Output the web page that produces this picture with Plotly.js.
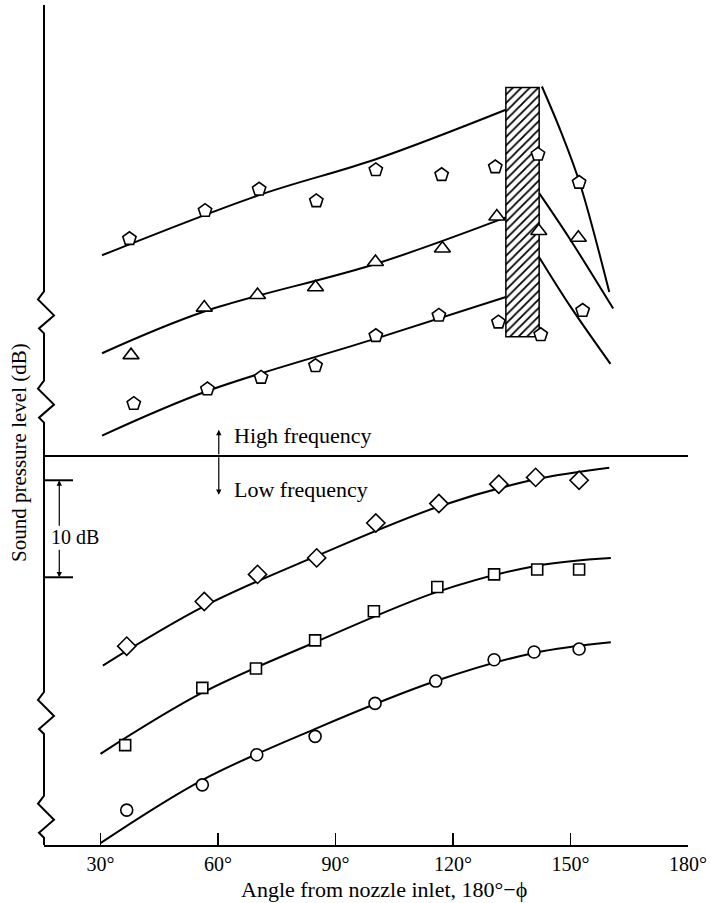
<!DOCTYPE html>
<html><head><meta charset="utf-8">
<script src="https://cdn.plot.ly/plotly-3.0.1.min.js"></script>
<style>html,body{margin:0;padding:0;background:#fff}</style>
</head><body><div id="chart" style="width:712px;height:903px"></div>
<script>
// ---------- tick labels ----------
const xTickVals = [30, 60, 90, 120, 150, 180];
const xTickText = ['30°', '60°', '90°', '120°', '150°', '180°'];

// ---------- HIGH FREQUENCY (relative dB) ----------
// top series (tombstone markers)
const hf1Angle = [37.4, 56.7, 70.5, 85.1, 100.3, 117.1, 130.8, 141.7, 152.2];
const hf1Level = [62.5, 65.4, 67.6, 66.4, 69.6, 69.1, 69.9, 71.2, 68.3];
// middle series (triangles)
const hf2Angle = [37.8, 56.5, 70.1, 84.9, 100.2, 117.3, 131.2, 141.9, 152.0];
const hf2Level = [50.5, 55.4, 56.7, 57.5, 60.1, 61.5, 64.8, 63.3, 62.6];
// lower series (tombstone markers)
const hf3Angle = [38.5, 57.3, 71.0, 84.9, 100.3, 116.4, 131.6, 142.4, 153.1];
const hf3Level = [45.5, 47.0, 48.2, 49.4, 52.5, 54.6, 53.9, 52.6, 55.1];

// fitted curves, left of shaded band
const hf1CurveX = [30.4, 70.5, 100.3, 133.5];
const hf1CurveY = [60.8, 67.0, 70.7, 75.8];
const hf2CurveX = [30.4, 56.5, 100.2, 133.5];
const hf2CurveY = [50.7, 55.0, 59.9, 64.7];
const hf3CurveX = [30.4, 57.3, 100.3, 133.5];
const hf3CurveY = [42.2, 46.8, 52.2, 56.5];
// fitted curves, right of shaded band
const hf1RightX = [142.7, 147.5, 152.4, 159.9];
const hf1RightY = [78.2, 73.6, 68.2, 57.0];
const hf2RightX = [142.0, 149.8, 160.9];
const hf2RightY = [67.2, 62.5, 55.3];
const hf3RightX = [142.0, 150.0, 160.2];
const hf3RightY = [60.6, 55.5, 49.6];

// shaded band (angle span, level span)
const bandAngle = [133.5, 142.0];
const bandLevel = [52.4, 78.1];

// ---------- LOW FREQUENCY (relative dB) ----------
const lf1Angle = [36.7, 56.5, 70.1, 85.2, 100.3, 116.4, 131.7, 141.1, 152.2];
const lf1Level = [20.5, 25.1, 27.9, 29.6, 33.2, 35.2, 37.2, 37.9, 37.6];
const lf2Angle = [36.3, 56.0, 69.7, 84.8, 99.8, 116.0, 130.5, 141.5, 152.2];
const lf2Level = [10.3, 16.2, 18.2, 21.1, 24.1, 26.6, 27.9, 28.4, 28.4];
const lf3Angle = [36.7, 56.0, 69.9, 84.8, 100.1, 115.6, 130.5, 140.7, 152.2];
const lf3Level = [3.6, 6.2, 9.3, 11.2, 14.6, 16.9, 19.1, 19.9, 20.2];

const lf1CurveX = [30.6, 56.4, 85.2, 116.4, 141.1, 159.9];
const lf1CurveY = [18.5, 24.6, 29.8, 34.9, 37.7, 38.9];
const lf2CurveX = [30.0, 56.0, 84.8, 116.0, 141.5, 160.3];
const lf2CurveY = [9.4, 15.7, 20.9, 26.1, 28.8, 29.6];
const lf3CurveX = [30.0, 56.0, 85.0, 115.6, 140.7, 160.3];
const lf3CurveY = [0.2, 6.7, 12.0, 16.9, 19.8, 20.9];

// reference levels
const dividerLevel = 40.1;
const scaleBarLevels = [37.6, 27.6];
const axisBreakLevels = [54.6, 45.4, 13.3, 2.6];

// ---------- layout constants ----------
const X_RANGE = [15.58, 180];
const Y_MAX = 86.6;
const PLOT_W = 644;   // px
const PX_PER_DB = 9.7;
const FONT = 'Liberation Serif, Times New Roman, serif';

function curve(x, y) {
  return {x: x, y: y, type: 'scatter', mode: 'lines', hoverinfo: 'skip',
    line: {color: 'black', width: 2, shape: 'spline', smoothing: 1}, showlegend: false};
}
function pts(x, y, symbol, size) {
  return {x: x, y: y, type: 'scatter', mode: 'markers', hoverinfo: 'skip', showlegend: false,
    marker: {symbol: symbol, size: size, color: 'white', line: {color: 'black', width: 1.6}}};
}

const traces = [
  {type: 'bar', x: [(bandAngle[0] + bandAngle[1]) / 2], width: [bandAngle[1] - bandAngle[0]],
   base: [bandLevel[0]], y: [bandLevel[1] - bandLevel[0]], hoverinfo: 'skip', showlegend: false,
   marker: {color: 'white', line: {color: 'black', width: 1.5},
     pattern: {shape: '/', fgcolor: 'black', bgcolor: 'white', size: 6, solidity: 0.3}}},
  curve(hf1CurveX, hf1CurveY), curve(hf2CurveX, hf2CurveY), curve(hf3CurveX, hf3CurveY),
  curve(hf1RightX, hf1RightY), curve(hf2RightX, hf2RightY), curve(hf3RightX, hf3RightY),
  curve(lf1CurveX, lf1CurveY), curve(lf2CurveX, lf2CurveY), curve(lf3CurveX, lf3CurveY),
  pts(hf1Angle, hf1Level, 'pentagon', 14),
  pts(hf2Angle, hf2Level, 'triangle-up', 14),
  pts(hf3Angle, hf3Level, 'pentagon', 14),
  pts(lf1Angle, lf1Level, 'diamond', 14),
  pts(lf2Angle, lf2Level, 'square', 11),
  pts(lf3Angle, lf3Level, 'circle', 12)
];

// left axis with break zigzags (decoration, paper coords)
function py(v) { return v / Y_MAX; }
function pxw(d) { return d / PLOT_W; }
let axisPath = 'M 0,' + py(Y_MAX);
axisBreakLevels.forEach(function (c) {
  const d = 1 / PX_PER_DB;
  axisPath += ' L 0,' + py(c + 24 * d) +
    ' L ' + pxw(-6) + ',' + py(c + 16 * d) +
    ' L ' + pxw(10) + ',' + py(c) +
    ' L ' + pxw(-5) + ',' + py(c - 13 * d) +
    ' L 0,' + py(c - 18 * d);
});
axisPath += ' L 0,0';

const shapes = [
  {type: 'path', xref: 'paper', yref: 'paper', path: axisPath, line: {color: 'black', width: 2}},
  {type: 'line', xref: 'paper', yref: 'paper', x0: 0, x1: 1, y0: py(dividerLevel), y1: py(dividerLevel),
   line: {color: 'black', width: 2}},
  {type: 'line', xref: 'paper', yref: 'paper', x0: 0, x1: pxw(29), y0: py(scaleBarLevels[0]), y1: py(scaleBarLevels[0]),
   line: {color: 'black', width: 2}},
  {type: 'line', xref: 'paper', yref: 'paper', x0: 0, x1: pxw(29), y0: py(scaleBarLevels[1]), y1: py(scaleBarLevels[1]),
   line: {color: 'black', width: 2}}
];

function arrow(x, y, ay) {
  return {x: x, y: y, xref: 'x', yref: 'y', ax: 0, ay: ay, text: '', showarrow: true,
    arrowhead: 2, arrowsize: 0.9, arrowwidth: 1.2, arrowcolor: 'black', standoff: 0};
}
function label(text, x, y, xanchor, size) {
  return {x: x, y: y, xref: 'x', yref: 'y', text: text, showarrow: false, xanchor: xanchor,
    yanchor: 'middle', font: {family: FONT, size: size, color: 'black'}};
}

const annotations = [
  arrow(60.2, 42.8, 26),
  arrow(60.2, 36.1, -39),
  label('High frequency', 63.6, 42.2, 'left', 22),
  label('Low frequency', 63.6, 36.7, 'left', 22),
  arrow(19.48, scaleBarLevels[0], 47),
  arrow(19.48, scaleBarLevels[1], -29),
  label('10 dB', 23.4, 31.8, 'center', 20),
  {xref: 'paper', yref: 'paper', x: 0.528, y: -0.053, text: 'Angle from nozzle inlet, 180°\u2212\u03d5',
   showarrow: false, xanchor: 'center', yanchor: 'middle', font: {family: FONT, size: 22, color: 'black'}},
  {xref: 'paper', yref: 'paper', x: -0.0388, y: 0.4667, text: 'Sound pressure level (dB)', textangle: -90,
   showarrow: false, xanchor: 'center', yanchor: 'middle', font: {family: FONT, size: 21, color: 'black'}}
];

const layout = {
  width: 712, height: 903,
  margin: {l: 44, r: 24, t: 5, b: 58, pad: 0},
  paper_bgcolor: 'white', plot_bgcolor: 'white',
  showlegend: false, hovermode: false,
  font: {family: FONT, color: 'black'},
  xaxis: {range: X_RANGE, showgrid: false, zeroline: false, showline: true, linecolor: 'black', linewidth: 2,
    ticks: 'inside', ticklen: 12, tickwidth: 1.5, tickcolor: 'black',
    tickmode: 'array', tickvals: xTickVals, ticktext: xTickText, ticklabelstandoff: 0,
    tickfont: {family: FONT, size: 20, color: 'black'}, fixedrange: true},
  yaxis: {range: [0, Y_MAX], showgrid: false, zeroline: false, showline: false, showticklabels: false,
    ticks: '', fixedrange: true},
  shapes: shapes,
  annotations: annotations,
  bargap: 0
};

Plotly.newPlot('chart', traces, layout, {staticPlot: true, displayModeBar: false});
</script>
</body></html>
